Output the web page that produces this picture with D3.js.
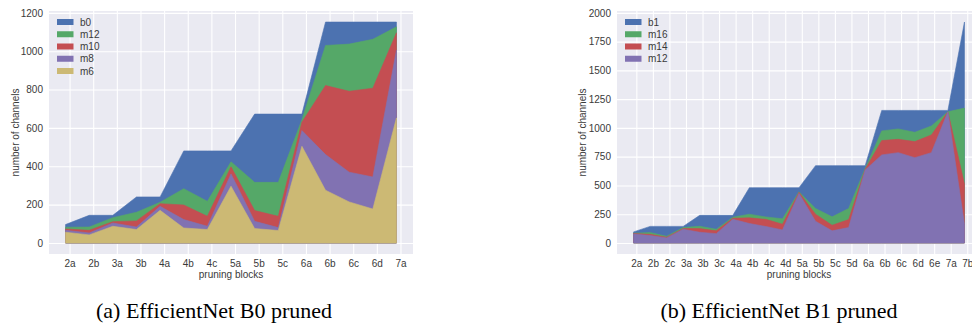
<!DOCTYPE html>
<html>
<head>
<meta charset="utf-8">
<script src="https://cdn.jsdelivr.net/npm/d3@7"></script>
<style>
  body { margin: 0; background: #fff; }
  svg { display: block; }
  .tick text { font-family: "Liberation Sans", Arial, sans-serif; font-size: 10px; fill: #3a3a3a; }
  .lbl { font-family: "Liberation Sans", Arial, sans-serif; font-size: 10px; fill: #3a3a3a; }
  .cap { font-family: "Liberation Serif", "Times New Roman", serif; font-size: 22px; fill: #000; }
</style>
</head>
<body>
<div id="chart"></div>
<script>
// DATA - B0
const blocksB0 = ['2a','2b','3a','3b','4a','4b','4c','5a','5b','5c','6a','6b','6c','6d','7a'];
const b0   = [96, 144, 144, 240, 240, 480, 480, 480, 672, 672, 672, 1152, 1152, 1152, 1152];
const b0m12 = [82, 83, 132, 160, 212, 283, 217, 423, 316, 316, 643, 1030, 1037, 1062, 1127];
const b0m10 = [73, 66, 111, 115, 205, 198, 139, 397, 169, 139, 630, 821, 791, 807, 1096];
const b0m8  = [66, 52, 104, 83, 191, 122, 87, 360, 113, 80, 586, 461, 369, 344, 1005];
const b0m6  = [56, 42, 87, 70, 170, 78, 70, 296, 75, 65, 504, 275, 214, 177, 652];
const namesB0 = ['b0', 'm12', 'm10', 'm8', 'm6'];
const yTicksB0 = [0, 200, 400, 600, 800, 1000, 1200];

// DATA - B1
const blocksB1 = ['2a','2b','2c','3a','3b','3c','4a','4b','4c','4d','5a','5b','5c','5d','6a','6b','6c','6d','6e','7a','7b'];
const b1    = [96, 144, 144, 144, 240, 240, 240, 480, 480, 480, 480, 672, 672, 672, 672, 1152, 1152, 1152, 1152, 1152, 1920];
const b1m16 = [85, 90, 58, 134, 145, 119, 224, 250, 226, 210, 445, 300, 227, 300, 648, 974, 991, 962, 1017, 1140, 1172];
const b1m14 = [82, 75, 50, 125, 125, 105, 215, 218, 205, 163, 440, 250, 154, 203, 640, 890, 901, 881, 939, 1140, 512];
const b1m12 = [78, 64, 44, 119, 93, 81, 206, 169, 143, 113, 430, 189, 105, 134, 634, 765, 785, 741, 785, 1140, 163];
const namesB1 = ['b1', 'm16', 'm14', 'm12'];
const yTicksB1 = [0, 250, 500, 750, 1000, 1250, 1500, 1750, 2000];

// seaborn deep
const colors = ['#4C72B0', '#55A868', '#C44E52', '#8172B2', '#CCB974'];

const W = 972, H = 324;
const svg = d3.select('#chart').append('svg').attr('width', W).attr('height', H);

function drawPanel(left, blocks, series, names, yTicks, caption, capX) {
    const top = 11, plotW = 364, plotH = 243;
    const n = blocks.length;
    const ymax = d3.max(series[0]);
    const pad = (n - 1) * 0.05;

    const x = d3.scaleLinear().domain([-pad, n - 1 + pad]).range([0, plotW]);
    const y = d3.scaleLinear().domain([-0.05 * ymax, 1.05 * ymax]).range([plotH, 0]);

    const g = svg.append('g').attr('transform', `translate(${left},${top})`);

    g.append('rect').attr('width', plotW).attr('height', plotH).attr('fill', '#EAEAF2');

    // x axis + vertical grid
    const xa = g.append('g')
        .attr('transform', `translate(0,${plotH})`)
        .call(d3.axisBottom(x)
            .tickValues(d3.range(n).map(i => i + 0.17))
            .tickFormat((d, i) => blocks[i])
            .tickSize(-plotH)
            .tickPadding(6));
    xa.select('.domain').remove();
    xa.selectAll('line').attr('stroke', '#fff').attr('stroke-width', 1.1);

    // y axis + horizontal grid
    const ya = g.append('g')
        .call(d3.axisLeft(y)
            .tickValues(yTicks)
            .tickFormat(d3.format('d'))
            .tickSize(-plotW)
            .tickPadding(6));
    ya.select('.domain').remove();
    ya.selectAll('line').attr('stroke', '#fff').attr('stroke-width', 1.1);

    // areas, drawn one over the other
    const area = d3.area().x((d, i) => x(i)).y0(y(0)).y1(d => y(d));
    series.forEach((s, k) => {
        g.append('path')
            .datum(s)
            .attr('d', area)
            .attr('fill', colors[k])
            .attr('stroke', colors[k])
            .attr('stroke-width', 0.6);
    });

    // legend
    names.forEach((nm, k) => {
        const ly = 11 + k * 12.25;
        g.append('rect').attr('x', 8).attr('y', ly - 3).attr('width', 16.5).attr('height', 6)
            .attr('fill', colors[k]);
        g.append('text').attr('class', 'lbl').attr('x', 31).attr('y', ly)
            .attr('dominant-baseline', 'central').text(nm);
    });

    // axis labels
    g.append('text').attr('class', 'lbl')
        .attr('x', plotW / 2).attr('y', plotH + 24)
        .attr('text-anchor', 'middle').text('pruning blocks');
    g.append('text').attr('class', 'lbl')
        .attr('transform', `translate(${left > 300 ? -35 : -34},${plotH / 2})rotate(-90)`)
        .attr('dominant-baseline', 'central')
        .attr('text-anchor', 'middle').text('number of channels');

    svg.append('text').attr('class', 'cap')
        .attr('x', capX).attr('y', 318)
        .attr('text-anchor', 'middle').text(caption);
}

drawPanel(49, blocksB0, [b0, b0m12, b0m10, b0m8, b0m6], namesB0, yTicksB0, '(a) EfficientNet B0 pruned', 214);
drawPanel(617, blocksB1, [b1, b1m16, b1m14, b1m12], namesB1, yTicksB1, '(b) EfficientNet B1 pruned', 779);
</script>
</body>
</html>
